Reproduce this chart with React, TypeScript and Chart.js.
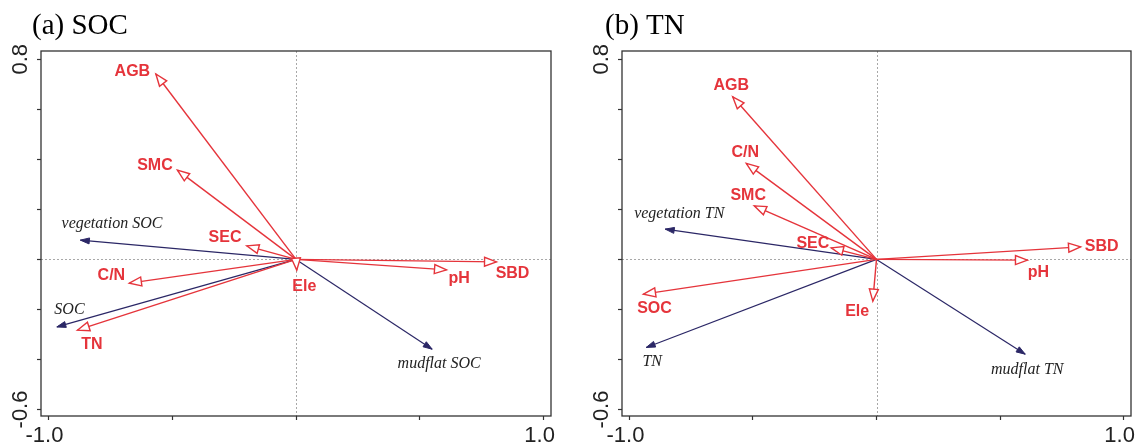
import React, { useEffect, useRef } from 'react';
import { Chart, registerables } from 'chart.js';

Chart.register(...registerables);

// ---------- Panel (a) SOC ----------
const envLabelsA = ['AGB', 'SMC', 'SEC', 'C/N', 'TN', 'Ele', 'pH', 'SBD'];
const envXA = [-0.566, -0.479, -0.199, -0.673, -0.883, 0.003, 0.608, 0.81];
const envYA = [0.741, 0.357, 0.054, -0.095, -0.283, -0.043, -0.042, -0.01];
const respLabelsA = ['vegetation SOC', 'SOC', 'mudflat SOC'];
const respXA = [-0.871, -0.966, 0.55];
const respYA = [0.077, -0.27, -0.359];

// ---------- Panel (b) TN ----------
const envLabelsB = ['AGB', 'C/N', 'SMC', 'SEC', 'SOC', 'Ele', 'pH', 'SBD'];
const envXB = [-0.582, -0.527, -0.495, -0.183, -0.943, -0.015, 0.611, 0.826];
const envYB = [0.65, 0.384, 0.214, 0.046, -0.139, -0.167, -0.003, 0.05];
const respLabelsB = ['vegetation TN', 'TN', 'mudflat TN'];
const respXB = [-0.855, -0.932, 0.602];
const respYB = [0.121, -0.352, -0.379];

// ---------- Axes ----------
const xTickValues = [-1, -0.5, 0, 0.5, 1];
const xTickLabels = ['-1.0', '', '', '', '1.0'];
const yTickValues = [-0.6, -0.4, -0.2, 0, 0.2, 0.4, 0.6, 0.8];
const yTickLabels = ['-0.6', '', '', '', '', '', '', '0.8'];
const xMin = -1.03;
const xMax = 1.03;
const yMin = -0.626;
const yMax = 0.833;

// ---------- Styles / layout (kept apart from the data) ----------
const RED = '#e5343b';
const NAVY = '#2b2766';
const INK = '#222222';
const FRAME = '#333333';

// label offsets in pixels from each arrow tip
const NUDGE_A: Record<string, [number, number]> = {
  AGB: [-23.5, -2], SMC: [-22.5, -4], SEC: [-21.7, -8], 'C/N': [-18, -7.5],
  TN: [14.5, 14], Ele: [7.6, 16.7], pH: [12.6, 9], SBD: [16, 11.5],
  'vegetation SOC': [31.6, -16], SOC: [12.6, -16.7], 'mudflat SOC': [7, 15],
};
const NUDGE_B: Record<string, [number, number]> = {
  AGB: [-1.5, -10.7], 'C/N': [-1, -11], SMC: [-6, -10], SEC: [-18.4, -4.4],
  SOC: [11, 14], Ele: [-15.6, 10], pH: [11, 12], SBD: [21, 0],
  'vegetation TN': [14, -15], TN: [6, 14], 'mudflat TN': [2, 16],
};

type Panel = {
  title: string;
  titleX: number;
  envLabels: string[]; envX: number[]; envY: number[];
  respLabels: string[]; respX: number[]; respY: number[];
  nudge: Record<string, [number, number]>;
  yAxisWidth: number;
  padRight: number;
};

const PANELS: Panel[] = [
  {
    title: '(a) SOC', titleX: 32,
    envLabels: envLabelsA, envX: envXA, envY: envYA,
    respLabels: respLabelsA, respX: respXA, respY: respYA,
    nudge: NUDGE_A, yAxisWidth: 41, padRight: 17,
  },
  {
    title: '(b) TN', titleX: 37,
    envLabels: envLabelsB, envX: envXB, envY: envYB,
    respLabels: respLabelsB, respX: respXB, respY: respYB,
    nudge: NUDGE_B, yAxisWidth: 54, padRight: 5,
  },
];

function lookup(values: number[], labels: string[], v: number): string {
  const i = values.findIndex((t) => Math.abs(t - v) < 1e-6);
  return i >= 0 ? labels[i] : '';
}

function arrowHead(
  ctx: CanvasRenderingContext2D,
  x0: number, y0: number, x1: number, y1: number,
  len: number, half: number, fill: string, stroke: string | null, lw: number,
) {
  const a = Math.atan2(y1 - y0, x1 - x0);
  const bx = x1 - len * Math.cos(a);
  const by = y1 - len * Math.sin(a);
  const px = -Math.sin(a) * half;
  const py = Math.cos(a) * half;
  ctx.beginPath();
  ctx.moveTo(x1, y1);
  ctx.lineTo(bx + px, by + py);
  ctx.lineTo(bx - px, by - py);
  ctx.closePath();
  ctx.fillStyle = fill;
  ctx.fill();
  if (stroke) {
    ctx.strokeStyle = stroke;
    ctx.lineWidth = lw;
    ctx.lineJoin = 'miter';
    ctx.stroke();
  }
}

function makePlugin(panel: Panel) {
  return {
    id: 'biplot',
    beforeDatasetsDraw(chart: any) {
      const { ctx, chartArea, scales } = chart;
      const x0 = scales.x.getPixelForValue(0);
      const y0 = scales.y.getPixelForValue(0);
      ctx.save();
      ctx.strokeStyle = '#a8a8a8';
      ctx.lineWidth = 1;
      ctx.setLineDash([2, 2]);
      ctx.beginPath();
      ctx.moveTo(Math.round(x0) + 0.5, chartArea.top);
      ctx.lineTo(Math.round(x0) + 0.5, chartArea.bottom);
      ctx.moveTo(chartArea.left, Math.round(y0) + 0.5);
      ctx.lineTo(chartArea.right, Math.round(y0) + 0.5);
      ctx.stroke();
      ctx.restore();
    },
    afterDatasetsDraw(chart: any) {
      const { ctx } = chart;
      ctx.save();
      chart.data.datasets.forEach((ds: any, i: number) => {
        const meta = chart.getDatasetMeta(i);
        const p0 = meta.data[0];
        const p1 = meta.data[1];
        if (!p0 || !p1) return;
        if (ds.role === 'env') {
          arrowHead(ctx, p0.x, p0.y, p1.x, p1.y, 12, 4.5, '#ffffff', RED, 1.4);
        } else {
          arrowHead(ctx, p0.x, p0.y, p1.x, p1.y, 9, 3, NAVY, NAVY, 1);
        }
      });
      chart.data.datasets.forEach((ds: any, i: number) => {
        const meta = chart.getDatasetMeta(i);
        const p1 = meta.data[1];
        if (!p1) return;
        const n = panel.nudge[ds.label] || [0, 0];
        ctx.textAlign = 'center';
        ctx.textBaseline = 'middle';
        if (ds.role === 'env') {
          ctx.font = 'bold 16px "Liberation Sans", Arial, sans-serif';
          ctx.fillStyle = RED;
        } else {
          ctx.font = 'italic 16px "Liberation Serif", "Times New Roman", serif';
          ctx.fillStyle = INK;
        }
        ctx.fillText(ds.label, p1.x + n[0], p1.y + n[1]);
      });
      ctx.restore();
    },
    afterDraw(chart: any) {
      const { ctx, chartArea } = chart;
      ctx.save();
      ctx.strokeStyle = FRAME;
      ctx.lineWidth = 1.3;
      ctx.strokeRect(chartArea.left, chartArea.top, chartArea.right - chartArea.left, chartArea.bottom - chartArea.top);
      ctx.fillStyle = '#000';
      ctx.font = '29px "Liberation Serif", "Times New Roman", serif';
      ctx.textAlign = 'left';
      ctx.textBaseline = 'alphabetic';
      ctx.fillText(panel.title, panel.titleX, 34);
      ctx.restore();
    },
  };
}

function makeConfig(panel: Panel): any {
  const datasets: any[] = [];
  panel.envLabels.forEach((name, i) => {
    datasets.push({
      label: name, role: 'env',
      data: [{ x: 0, y: 0 }, { x: panel.envX[i], y: panel.envY[i] }],
      showLine: true, borderColor: RED, borderWidth: 1.4,
      pointRadius: 0, pointHoverRadius: 0, fill: false,
    });
  });
  panel.respLabels.forEach((name, i) => {
    datasets.push({
      label: name, role: 'resp',
      data: [{ x: 0, y: 0 }, { x: panel.respX[i], y: panel.respY[i] }],
      showLine: true, borderColor: NAVY, borderWidth: 1.2,
      pointRadius: 0, pointHoverRadius: 0, fill: false,
    });
  });
  const tickFont = { family: '"Liberation Sans", Arial, sans-serif', size: 22 };
  return {
    type: 'scatter',
    data: { datasets },
    options: {
      animation: false,
      responsive: false,
      maintainAspectRatio: false,
      events: [],
      layout: { padding: { top: 51, right: panel.padRight, bottom: 0, left: 0 } },
      plugins: { legend: { display: false }, tooltip: { enabled: false }, title: { display: false } },
      scales: {
        x: {
          type: 'linear', min: xMin, max: xMax,
          afterBuildTicks: (s: any) => { s.ticks = xTickValues.map((v) => ({ value: v })); },
          afterFit: (s: any) => { s.height = 32; s.paddingLeft = 0; s.paddingRight = 0; },
          grid: { drawOnChartArea: false, drawTicks: true, tickLength: 4, tickColor: FRAME, tickWidth: 1.2 },
          border: { display: false },
          ticks: {
            autoSkip: false, minRotation: 0, maxRotation: 0, padding: 3, labelOffset: -4,
            color: INK, font: tickFont,
            callback: (v: any) => lookup(xTickValues, xTickLabels, Number(v)),
          },
        },
        y: {
          type: 'linear', min: yMin, max: yMax,
          afterBuildTicks: (s: any) => { s.ticks = yTickValues.map((v) => ({ value: v })); },
          afterFit: (s: any) => { s.width = panel.yAxisWidth; s.paddingTop = 0; s.paddingBottom = 0; },
          grid: { drawOnChartArea: false, drawTicks: true, tickLength: 4, tickColor: FRAME, tickWidth: 1.2 },
          border: { display: false },
          ticks: {
            autoSkip: false, minRotation: 90, maxRotation: 90, crossAlign: 'center', padding: -3,
            color: INK, font: tickFont,
            callback: (v: any) => lookup(yTickValues, yTickLabels, Number(v)),
          },
        },
      },
    },
    plugins: [makePlugin(panel)],
  };
}

function PanelChart({ panel, left }: { panel: Panel; left: number }) {
  const ref = useRef<HTMLCanvasElement | null>(null);
  useEffect(() => {
    if (!ref.current) return;
    const chart = new Chart(ref.current, makeConfig(panel));
    return () => chart.destroy();
  }, [panel]);
  return (
    <canvas
      ref={ref}
      width={568}
      height={448}
      style={{ position: 'absolute', left, top: 0, width: 568, height: 448, display: 'block' }}
    />
  );
}

export default function App() {
  return (
    <div style={{ position: 'absolute', left: 0, top: 0, width: 1136, height: 448, background: '#ffffff', overflow: 'hidden' }}>
      <PanelChart panel={PANELS[0]} left={0} />
      <PanelChart panel={PANELS[1]} left={568} />
    </div>
  );
}
